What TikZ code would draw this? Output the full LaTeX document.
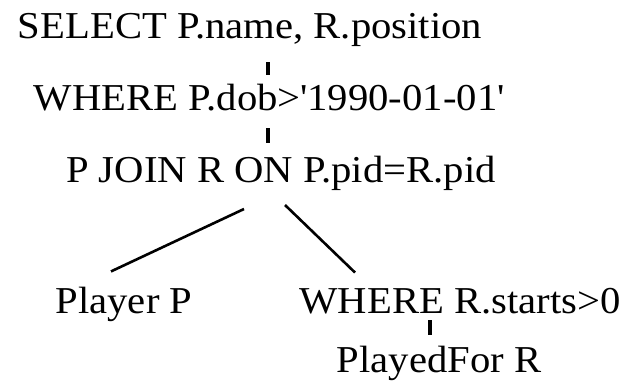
\documentclass[tikz,border=0pt]{standalone}
\usepackage{fontspec}
\setmainfont{Liberation Serif}[FakeStretch=1.07]
\begin{document}
\begin{tikzpicture}[x=1pt,y=-1pt,
  op/.style={inner sep=0pt,anchor=base,font=\fontsize{38}{42}\selectfont},
  edge/.style={line width=2.6pt},
  tick/.style={line width=3.5pt}]
\useasboundingbox (0,0) rectangle (621,381);
% plan nodes
\node[op] (sel) at (250,38) {SELECT P.name, R.position};
\node[op] (whr) at (269,110) {WHERE P.dob>\textquotesingle1990-01-01\textquotesingle};
\node[op] (join) at (281,182) {P JOIN R ON P.pid=R.pid};
\node[op] (pl) at (124,313) {Player P};
\node[op] (wr) at (460,313) {WHERE R.starts>0};
\node[op] (pf) at (439,372) {PlayedFor R};
% x positions of the short vertical links
\coordinate (t1) at (268,0);
\coordinate (t2) at (430,0);
% links
\draw[tick] (sel.base -| t1) ++(0,24) -- ++(0,13);
\draw[tick] (whr.base -| t1) ++(0,18) -- ++(0,15);
\draw[tick] (wr.base -| t2) ++(0,7) -- ++(0,15);
\draw[edge] ([xshift=-37pt,yshift=-27pt]join.base) -- ([xshift=-13pt,yshift=15pt]pl.north);
\draw[edge] ([xshift=4pt,yshift=-23pt]join.base) -- ([xshift=-105pt,yshift=15pt]wr.north);
\end{tikzpicture}
\end{document}
